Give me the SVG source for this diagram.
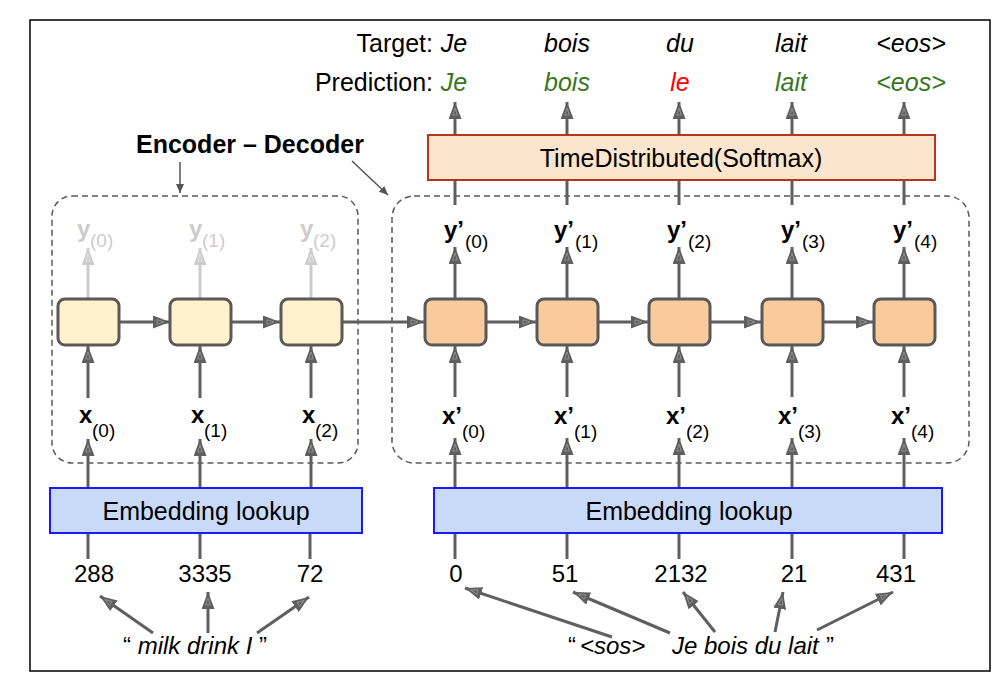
<svg xmlns="http://www.w3.org/2000/svg" width="1005" height="681" viewBox="0 0 1005 681">
<style>
text{font-family:"Liberation Sans",Arial,sans-serif;fill:#000}
.t24{font-size:24px}
.t25{font-size:25px}
.it{font-style:italic}
.b{font-weight:bold}
.mid{text-anchor:middle}
.end{text-anchor:end}
.grn{fill:#38761d}
.red{fill:#ff0000}
.sub{font-size:19px}
.gry{fill:#cccccc}
.cellE{fill:#fff2cc;stroke:#595959;stroke-width:3}
.cellD{fill:#f9cb9c;stroke:#595959;stroke-width:3}
.dash{fill:none;stroke:#595959;stroke-width:1.5;stroke-dasharray:6 4}
.emb{fill:#c9daf8;stroke:#1a1aff;stroke-width:2}
.ln{stroke:#5f5f5f;stroke-width:3;fill:none}
.ar{stroke:#5f5f5f;stroke-width:3;fill:none;marker-end:url(#ah)}
.arg{stroke:#cccccc;stroke-width:3;fill:none;marker-end:url(#ahg)}
.thin{stroke:#555;stroke-width:1.5;fill:none;marker-end:url(#ahs)}
</style>
<defs>
<marker id="ah" viewBox="0 0 17 13" refX="17" refY="6.5" markerWidth="17" markerHeight="13" markerUnits="userSpaceOnUse" orient="auto">
<path d="M0,0 L17,6.5 L0,13 Z" fill="#5f5f5f"/>
<path d="M4,4.2 L11,6.5 L4,8.8 Z" fill="none" stroke="#9a9a9a" stroke-width="0.8"/>
</marker>
<marker id="ahg" viewBox="0 0 17 13" refX="17" refY="6.5" markerWidth="17" markerHeight="13" markerUnits="userSpaceOnUse" orient="auto">
<path d="M0,0 L17,6.5 L0,13 Z" fill="#cccccc"/>
<path d="M4,4.2 L11,6.5 L4,8.8 Z" fill="none" stroke="#e8e8e8" stroke-width="0.8"/>
</marker>
<marker id="ahs" viewBox="0 0 9 8" refX="9" refY="4" markerWidth="9" markerHeight="8" markerUnits="userSpaceOnUse" orient="auto">
<path d="M0,0 L9,4 L0,8 Z" fill="#555"/>
</marker>
</defs>
<rect x="0" y="0" width="1005" height="681" fill="#fff"/>
<rect id="frame" x="30" y="20" width="960" height="651" fill="#fff" stroke="#000" stroke-width="1.5"/>

<g id="labels-target">
<text class="t25 end" x="433" y="52">Target:</text>
<text class="t25 end" x="433" y="91">Prediction:</text>
<text class="t25 it mid" x="454" y="52">Je</text>
<text class="t25 it mid" x="567" y="52">bois</text>
<text class="t25 it mid" x="680" y="52">du</text>
<text class="t25 it mid" x="791" y="52">lait</text>
<text class="t25 it mid" x="911" y="52">&lt;eos&gt;</text>
<text class="t25 it mid grn" x="454" y="91">Je</text>
<text class="t25 it mid grn" x="567" y="91">bois</text>
<text class="t25 it mid red" x="680" y="91">le</text>
<text class="t25 it mid grn" x="791" y="91">lait</text>
<text class="t25 it mid grn" x="911" y="91">&lt;eos&gt;</text>
</g>

<g id="enc-dec-label">
<text class="t25 b" x="136" y="153">Encoder – Decoder</text>
</g>

<g id="encoder-box"><rect class="dash" x="52" y="196" width="306" height="267" rx="20"/></g>
<g id="decoder-box"><rect class="dash" x="392" y="196" width="577" height="267" rx="22"/></g>

<g id="connectors">
<line class="thin" x1="180" y1="162" x2="180" y2="193"/>
<line class="thin" x1="352" y1="161" x2="388" y2="195"/>
<line class="ar" x1="455" y1="135" x2="455" y2="102"/>
<line class="ar" x1="567" y1="135" x2="567" y2="102"/>
<line class="ar" x1="679" y1="135" x2="679" y2="102"/>
<line class="ar" x1="792" y1="135" x2="792" y2="102"/>
<line class="ar" x1="904" y1="135" x2="904" y2="102"/>
<line class="ln" x1="455" y1="205" x2="455" y2="180"/>
<line class="ln" x1="567" y1="205" x2="567" y2="180"/>
<line class="ln" x1="679" y1="205" x2="679" y2="180"/>
<line class="ln" x1="792" y1="205" x2="792" y2="180"/>
<line class="ln" x1="904" y1="205" x2="904" y2="180"/>
<line class="arg" x1="88" y1="299" x2="88" y2="248"/>
<line class="arg" x1="200" y1="299" x2="200" y2="248"/>
<line class="arg" x1="311" y1="299" x2="311" y2="248"/>
<line class="ar" x1="455" y1="299" x2="455" y2="247"/>
<line class="ar" x1="567" y1="299" x2="567" y2="247"/>
<line class="ar" x1="679" y1="299" x2="679" y2="247"/>
<line class="ar" x1="792" y1="299" x2="792" y2="247"/>
<line class="ar" x1="904" y1="299" x2="904" y2="247"/>
<line class="ar" x1="119" y1="322" x2="170" y2="322"/>
<line class="ar" x1="231" y1="322" x2="280" y2="322"/>
<line class="ar" x1="342" y1="322" x2="424" y2="322"/>
<line class="ar" x1="486" y1="322" x2="536" y2="322"/>
<line class="ar" x1="598" y1="322" x2="648" y2="322"/>
<line class="ar" x1="710" y1="322" x2="761" y2="322"/>
<line class="ar" x1="823" y1="322" x2="873" y2="322"/>
<line class="ar" x1="88" y1="398" x2="88" y2="346"/>
<line class="ar" x1="200" y1="398" x2="200" y2="346"/>
<line class="ar" x1="311" y1="398" x2="311" y2="346"/>
<line class="ar" x1="455" y1="397" x2="455" y2="346"/>
<line class="ar" x1="567" y1="397" x2="567" y2="346"/>
<line class="ar" x1="679" y1="397" x2="679" y2="346"/>
<line class="ar" x1="792" y1="397" x2="792" y2="346"/>
<line class="ar" x1="904" y1="397" x2="904" y2="346"/>
<line class="ar" x1="88" y1="488" x2="88" y2="439"/>
<line class="ar" x1="200" y1="488" x2="200" y2="439"/>
<line class="ar" x1="311" y1="488" x2="311" y2="439"/>
<line class="ar" x1="455" y1="488" x2="455" y2="438"/>
<line class="ar" x1="567" y1="488" x2="567" y2="438"/>
<line class="ar" x1="679" y1="488" x2="679" y2="438"/>
<line class="ar" x1="792" y1="488" x2="792" y2="438"/>
<line class="ar" x1="904" y1="488" x2="904" y2="438"/>
<line class="ln" x1="88" y1="533" x2="88" y2="559"/>
<line class="ln" x1="200" y1="533" x2="200" y2="559"/>
<line class="ln" x1="310" y1="533" x2="310" y2="559"/>
<line class="ln" x1="455" y1="533" x2="455" y2="559"/>
<line class="ln" x1="567" y1="533" x2="567" y2="559"/>
<line class="ln" x1="679" y1="533" x2="679" y2="559"/>
<line class="ln" x1="792" y1="533" x2="792" y2="559"/>
<line class="ln" x1="904" y1="533" x2="904" y2="559"/>
<line class="ar" x1="153" y1="633" x2="100" y2="596"/>
<line class="ar" x1="208" y1="633" x2="208" y2="592"/>
<line class="ar" x1="257" y1="633" x2="309" y2="597"/>
<line class="ar" x1="612" y1="637" x2="465" y2="588"/>
<line class="ar" x1="670" y1="633" x2="573" y2="592"/>
<line class="ar" x1="715" y1="632" x2="683" y2="592"/>
<line class="ar" x1="775" y1="632" x2="783" y2="592"/>
<line class="ar" x1="817" y1="630" x2="893" y2="592"/>
</g>

<g id="softmax">
<rect x="428" y="135" width="507" height="45" fill="#fce5cd" stroke="#b5361c" stroke-width="2"/>
<text class="t25 mid" x="681" y="167">TimeDistributed(Softmax)</text>
</g>

<g id="enc-cell-0"><rect class="cellE" x="58" y="299" width="61" height="46" rx="7"/></g>
<g id="enc-cell-1"><rect class="cellE" x="170" y="299" width="61" height="46" rx="7"/></g>
<g id="enc-cell-2"><rect class="cellE" x="281" y="299" width="61" height="46" rx="7"/></g>
<g id="dec-cell-0"><rect class="cellD" x="425" y="299" width="61" height="46" rx="7"/></g>
<g id="dec-cell-1"><rect class="cellD" x="537" y="299" width="61" height="46" rx="7"/></g>
<g id="dec-cell-2"><rect class="cellD" x="649" y="299" width="61" height="46" rx="7"/></g>
<g id="dec-cell-3"><rect class="cellD" x="762" y="299" width="61" height="46" rx="7"/></g>
<g id="dec-cell-4"><rect class="cellD" x="874" y="299" width="61" height="46" rx="7"/></g>

<g id="enc-y-labels">
<text class="t24 b gry" x="77" y="237">y</text><text class="sub gry" x="90" y="247">(0)</text>
<text class="t24 b gry" x="189" y="237">y</text><text class="sub gry" x="202" y="247">(1)</text>
<text class="t24 b gry" x="300" y="237">y</text><text class="sub gry" x="313" y="247">(2)</text>
</g>
<g id="dec-y-labels">
<text class="t24 b" x="444" y="238">y’</text><text class="sub" x="465" y="248">(0)</text>
<text class="t24 b" x="554" y="238">y’</text><text class="sub" x="575" y="248">(1)</text>
<text class="t24 b" x="667" y="238">y’</text><text class="sub" x="688" y="248">(2)</text>
<text class="t24 b" x="781" y="238">y’</text><text class="sub" x="802" y="248">(3)</text>
<text class="t24 b" x="893" y="238">y’</text><text class="sub" x="914" y="248">(4)</text>
</g>
<g id="enc-x-labels">
<text class="t24 b" x="79" y="423">x</text><text class="sub" x="92" y="437">(0)</text>
<text class="t24 b" x="191" y="423">x</text><text class="sub" x="204" y="437">(1)</text>
<text class="t24 b" x="302" y="423">x</text><text class="sub" x="315" y="437">(2)</text>
</g>
<g id="dec-x-labels">
<text class="t24 b" x="442" y="424">x’</text><text class="sub" x="462" y="438">(0)</text>
<text class="t24 b" x="554" y="424">x’</text><text class="sub" x="574" y="438">(1)</text>
<text class="t24 b" x="666" y="424">x’</text><text class="sub" x="686" y="438">(2)</text>
<text class="t24 b" x="778" y="424">x’</text><text class="sub" x="798" y="438">(3)</text>
<text class="t24 b" x="891" y="424">x’</text><text class="sub" x="911" y="438">(4)</text>
</g>

<g id="enc-embedding">
<rect class="emb" x="50" y="488" width="312" height="45"/>
<text class="t25 mid" x="206" y="520">Embedding lookup</text>
</g>
<g id="dec-embedding">
<rect class="emb" x="434" y="488" width="508" height="45"/>
<text class="t25 mid" x="689" y="520">Embedding lookup</text>
</g>

<g id="enc-ids">
<text class="t24 mid" x="94" y="582">288</text>
<text class="t24 mid" x="205" y="582">3335</text>
<text class="t24 mid" x="310" y="582">72</text>
</g>
<g id="dec-ids">
<text class="t24 mid" x="456" y="582">0</text>
<text class="t24 mid" x="565" y="582">51</text>
<text class="t24 mid" x="681" y="582">2132</text>
<text class="t24 mid" x="794" y="582">21</text>
<text class="t24 mid" x="896" y="582">431</text>
</g>

<g id="enc-sentence">
<text class="t24" x="123" y="654">“ <tspan class="it">milk drink I</tspan> ”</text>
</g>
<g id="dec-sentence">
<text class="t24" x="568" y="654">“</text>
<text class="t24 it" x="580" y="654">&lt;sos&gt;</text>
<text class="t24 it" x="672" y="654">Je bois du lait</text>
<text class="t24" x="826" y="654">”</text>
</g>
</svg>
